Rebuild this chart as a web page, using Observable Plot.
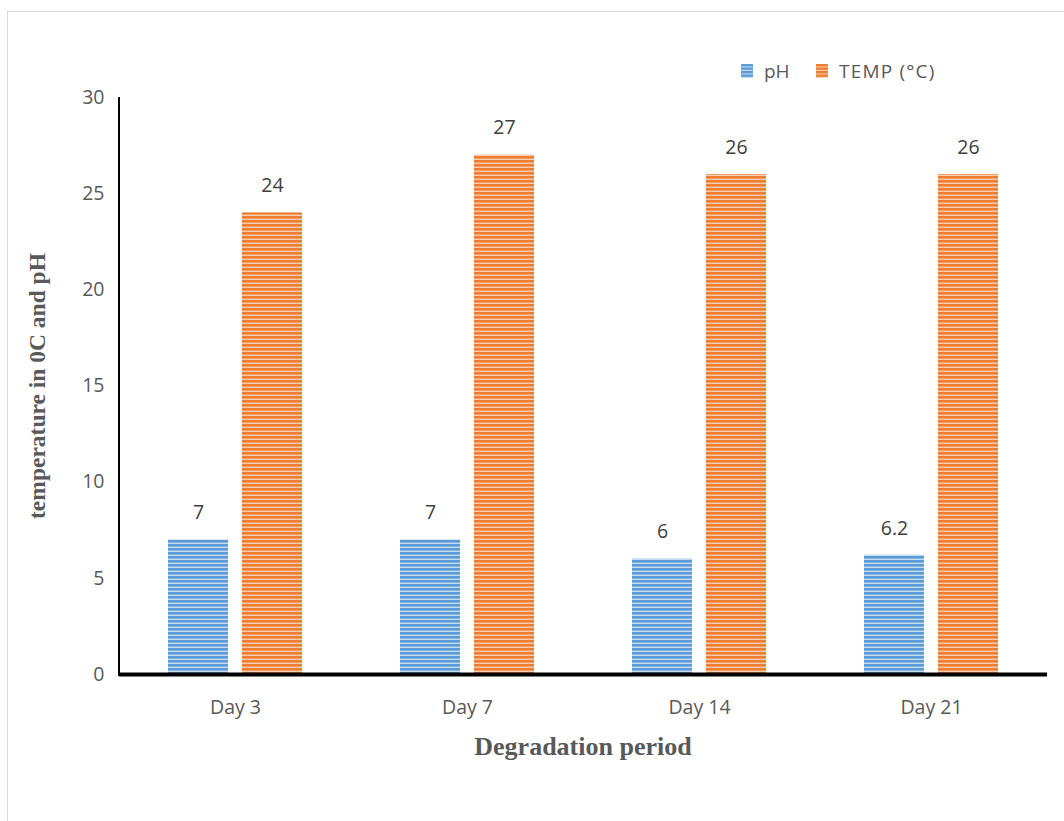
<!DOCTYPE html>
<html>
<head>
<meta charset="utf-8">
<script src="https://cdn.jsdelivr.net/npm/d3@7"></script>
<script src="https://cdn.jsdelivr.net/npm/@observablehq/plot@0.6"></script>
<style>
  html, body { margin: 0; padding: 0; background: #fff; }
  #wrap { position: relative; width: 1064px; height: 821px; overflow: hidden; }
  #border { position: absolute; left: 7px; top: 11px; width: 1080px; height: 840px;
            border: 1.5px solid #d9d9d9; box-sizing: border-box; pointer-events: none; }
  #legend { position: absolute; top: 58px; left: 741px; height: 26px;
            font-family: "Open Sans", sans-serif; font-size: 19px; color: #595959; }
  #legend .item { position: absolute; top: 0; display: flex; align-items: center; white-space: nowrap; height: 26px; }
  #legend svg { margin-right: 11px; }
  #chart { position: absolute; left: 0; top: 0; }
</style>
</head>
<body>
<div id="wrap">
  <div id="chart"></div>
  <div id="border"></div>
  <div id="legend"></div>
</div>
<script>
// Degradation period readings
const days = ["Day 3", "Day 7", "Day 14", "Day 21"];
const series = ["pH", "TEMP (°C)"];
const phValues = [7, 7, 6, 6.2];
const tempValues = [24, 27, 26, 26];
const yTicks = [0, 5, 10, 15, 20, 25, 30];

const colors = { "pH": ["#5b9bd5", "#c6dcf2"], "TEMP (°C)": ["#ed7d31", "#f9cfb1"] };
const patternIds = { "pH": "stripe-ph", "TEMP (°C)": "stripe-temp" };

const rows = [
  ...days.map((day, i) => ({ day, series: "pH", value: phValues[i] })),
  ...days.map((day, i) => ({ day, series: "TEMP (°C)", value: tempValues[i] }))
];

const chart = Plot.plot({
  width: 1064,
  height: 821,
  marginLeft: 119,
  marginRight: 17,
  marginTop: 97,
  marginBottom: 147,
  style: { fontFamily: "'Open Sans', sans-serif", fontSize: "19.5px", color: "#595959", background: "transparent" },
  fx: { domain: days, paddingInner: 0, paddingOuter: 0, label: null, axis: null },
  x: { domain: series, paddingInner: 0.189, paddingOuter: 0.662, axis: null },
  y: { domain: [0, 30], axis: null },
  color: { domain: series, range: series.map(s => `url(#${patternIds[s]})`) },
  marks: [
    Plot.axisY({ ticks: yTicks, tickSize: 0, tickPadding: 15, fill: "#595959", label: null, fontSize: 19.5 }),
    Plot.axisFx({ anchor: "bottom", domain: days, tickSize: 0, tickPadding: 26, fill: "#595959", label: null, fontSize: 19.5 }),
    Plot.barY(rows, { fx: "day", x: "series", y: "value", fill: "series" }),
    Plot.text(rows, { fx: "day", x: "series", y: "value", text: d => String(d.value), dy: -27, fill: "#404040", fontSize: 19.5 }),
    Plot.ruleY([0], { stroke: "#000", strokeWidth: 4 })
  ]
});

const svgNS = "http://www.w3.org/2000/svg";

// Striped fills for the bars
function addPatterns(svg) {
  const defs = document.createElementNS(svgNS, "defs");
  for (const s of series) {
    const p = document.createElementNS(svgNS, "pattern");
    p.setAttribute("id", patternIds[s]);
    p.setAttribute("patternUnits", "userSpaceOnUse");
    p.setAttribute("width", 8);
    p.setAttribute("height", 4);
    const base = document.createElementNS(svgNS, "rect");
    base.setAttribute("width", 8); base.setAttribute("height", 4);
    base.setAttribute("fill", colors[s][0]);
    const line = document.createElementNS(svgNS, "rect");
    line.setAttribute("y", 2.6); line.setAttribute("width", 8); line.setAttribute("height", 1.4);
    line.setAttribute("fill", colors[s][1]);
    p.appendChild(base); p.appendChild(line);
    defs.appendChild(p);
  }
  svg.insertBefore(defs, svg.firstChild);
}
addPatterns(chart);

// Vertical value axis line, from the y scale's extent
const yScale = chart.scale("y");
const yLine = document.createElementNS(svgNS, "line");
yLine.setAttribute("x1", 119); yLine.setAttribute("x2", 119);
yLine.setAttribute("y1", yScale.apply(30));
yLine.setAttribute("y2", yScale.apply(0) + 2);
yLine.setAttribute("stroke", "#000");
yLine.setAttribute("stroke-width", 2);
chart.appendChild(yLine);

// Axis titles
const yTitle = document.createElementNS(svgNS, "text");
yTitle.setAttribute("transform", "translate(45,386) rotate(-90)");
yTitle.setAttribute("text-anchor", "middle");
yTitle.setAttribute("font-family", "'Liberation Serif', 'Times New Roman', serif");
yTitle.setAttribute("font-weight", "bold");
yTitle.setAttribute("font-size", "23.5");
yTitle.setAttribute("fill", "#595959");
yTitle.textContent = "temperature in 0C and pH";
chart.appendChild(yTitle);

const xTitle = document.createElementNS(svgNS, "text");
xTitle.setAttribute("x", 583);
xTitle.setAttribute("y", 755);
xTitle.setAttribute("text-anchor", "middle");
xTitle.setAttribute("font-family", "'Liberation Serif', 'Times New Roman', serif");
xTitle.setAttribute("font-weight", "bold");
xTitle.setAttribute("font-size", "26");
xTitle.setAttribute("fill", "#595959");
xTitle.textContent = "Degradation period";
chart.appendChild(xTitle);

document.getElementById("chart").appendChild(chart);

// Legend
const legend = document.getElementById("legend");
const legendOffsets = { "pH": 0, "TEMP (°C)": 75 };
for (const s of series) {
  const item = document.createElement("div");
  item.className = "item";
  item.style.left = legendOffsets[s] + "px";
  item.innerHTML = `<svg width="12" height="14"><defs><pattern id="lg-${patternIds[s]}" patternUnits="userSpaceOnUse" width="12" height="3.5"><rect width="12" height="3.5" fill="${colors[s][0]}"/><rect y="2.4" width="12" height="1.1" fill="${colors[s][1]}"/></pattern></defs><rect width="12" height="14" fill="url(#lg-${patternIds[s]})"/></svg><span${s === "TEMP (°C)" ? ' style="letter-spacing:1.2px"' : ""}>${s}</span>`;
  legend.appendChild(item);
}
</script>
</body>
</html>
